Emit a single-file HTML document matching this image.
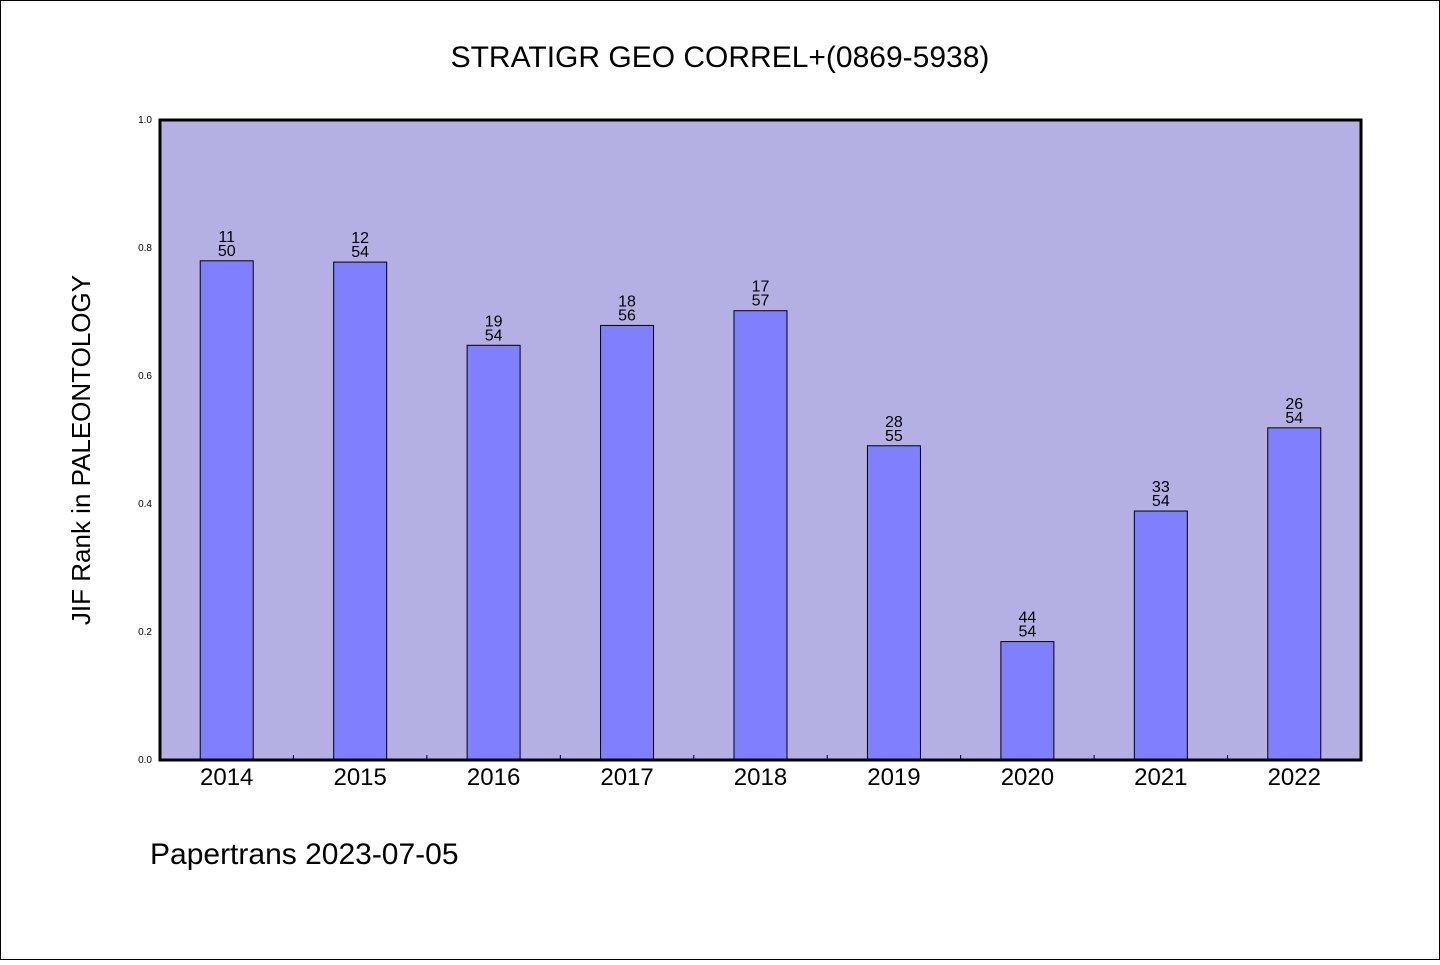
<!DOCTYPE html>
<html><head><meta charset="utf-8"><style>
html,body{margin:0;padding:0;background:#fff}
svg text{font-family:"WenQuanYi Zen Hei","Liberation Sans",sans-serif}
</style></head><body>
<svg id="c" width="1440" height="960">
<rect x="0.5" y="0.5" width="1439" height="959" fill="#fff" stroke="#000"/>
<text x="720" y="67" text-anchor="middle" font-size="30">STRATIGR GEO CORREL+(0869-5938)</text>
<rect x="160" y="120" width="1201" height="640" fill="#b5b0e3"/>
<g id="bars"></g>
<rect x="160" y="120" width="1201" height="640" fill="none" stroke="#000" stroke-width="3"/>
<text transform="translate(90,450) rotate(-90)" text-anchor="middle" font-size="26">JIF Rank in PALEONTOLOGY</text>
<text x="150" y="864" font-size="30">Papertrans 2023-07-05</text>
</svg>
<script>
const categories=["2014","2015","2016","2017","2018","2019","2020","2021","2022"];
const values=[0.78,0.778,0.648,0.679,0.702,0.491,0.185,0.389,0.519];
const ranks=["11","12","19","18","17","28","44","33","26"];
const totals=["50","54","54","56","57","55","54","54","54"];
const yTicks=["0.0","0.2","0.4","0.6","0.8","1.0"];
const X0=160,W=1201,Y0=760,H=640;
const band=W/categories.length;
const xs=i=>X0+band*(i+0.5);
const ys=v=>Y0-v*H;
const NS="http://www.w3.org/2000/svg";
const g=document.getElementById('bars');
function mk(t,a){const e=document.createElementNS(NS,t);for(const k in a)e.setAttribute(k,a[k]);g.appendChild(e);return e;}
categories.forEach((c,i)=>{
  const cx=xs(i),y=ys(values[i]);
  const r=mk('rect',{x:cx-26.5,y:y,width:53,height:Y0-y,fill:'#8080ff',stroke:'#000','stroke-width':1});
  
  
  const t1=mk('text',{x:cx,y:y-19,'text-anchor':'middle','font-size':16});t1.textContent=ranks[i];
  
  
  const t2=mk('text',{x:cx,y:y-5,'text-anchor':'middle','font-size':16});t2.textContent=totals[i];
  
  
  const xl=mk('text',{x:cx,y:785,'text-anchor':'middle','font-size':24});xl.textContent=c;
  
  
  if(i>0){const tk=mk('line',{x1:X0+band*i,x2:X0+band*i,y1:Y0,y2:Y0-5,stroke:'#000','stroke-width':1});
  
  }
});
yTicks.forEach(s=>{
  const t=mk('text',{x:152,y:ys(parseFloat(s))+3,'text-anchor':'end','font-size':10});t.textContent=s;
  
  
});
</script>
</body></html>
